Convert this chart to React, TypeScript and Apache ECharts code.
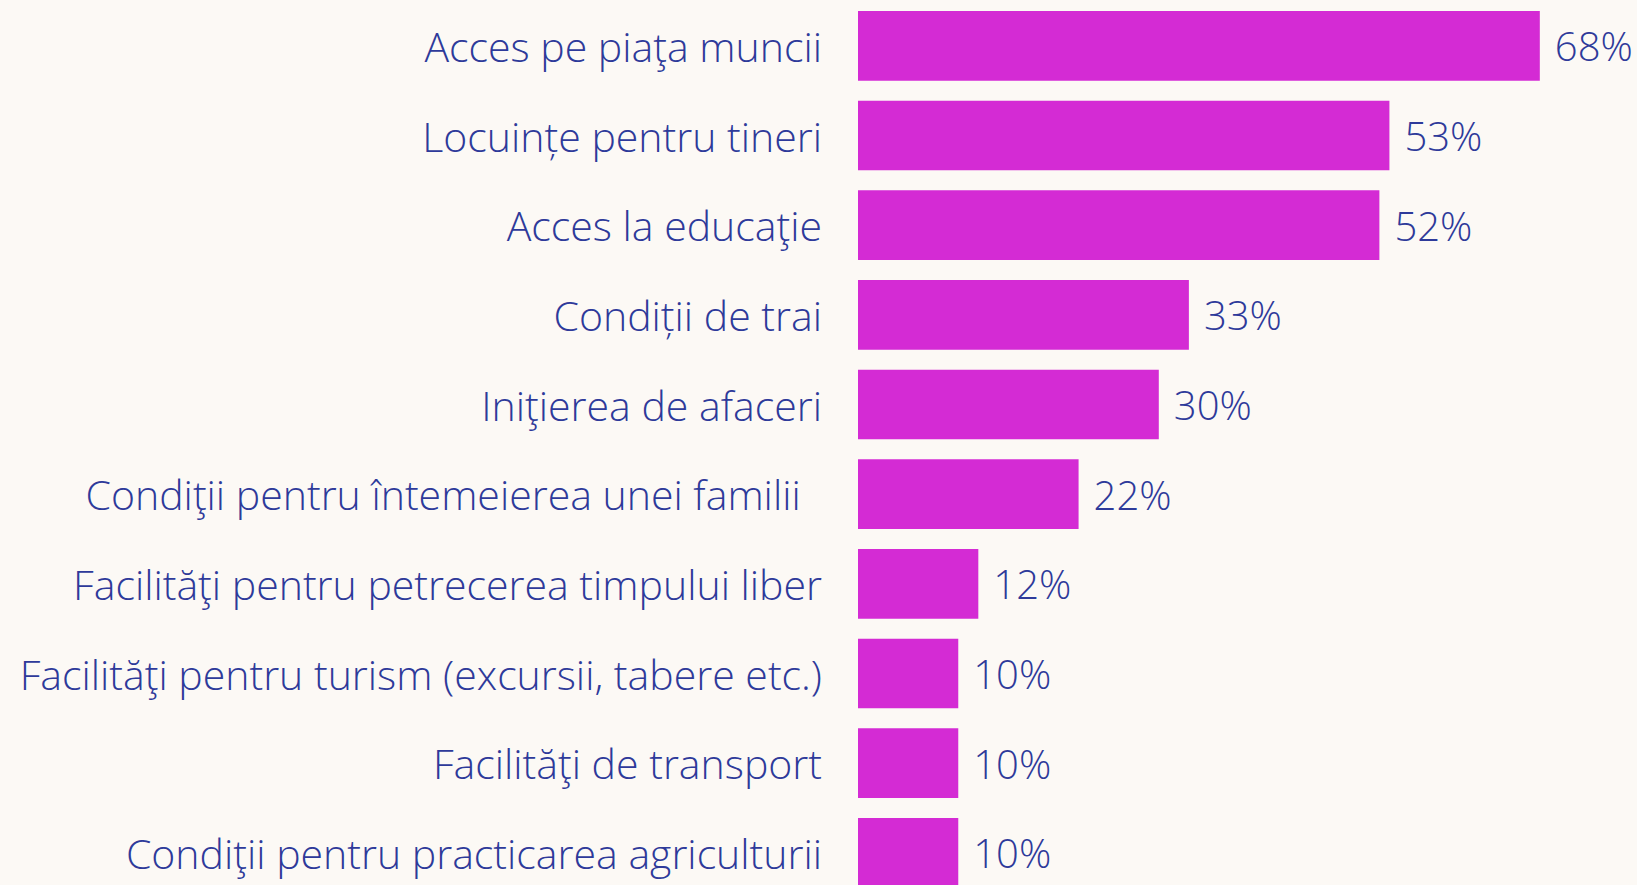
import React, { useEffect, useRef } from "react";
import * as echarts from "echarts";

const categories = [
  "Acces pe piaţa muncii",
  "Locuințe pentru tineri",
  "Acces la educaţie",
  "Condiții de trai",
  "Iniţierea de afaceri",
  "Condiţii pentru întemeierea unei familii\u00a0\u00a0",
  "Facilităţi pentru petrecerea timpului liber",
  "Facilităţi pentru turism (excursii, tabere etc.)",
  "Facilităţi de transport",
  "Condiţii pentru practicarea agriculturii",
];
const values = [68, 53, 52, 33, 30, 22, 12, 10, 10, 10];

const BG = "#fcf9f5";
const TEXT = "#2e3a9a";
const BAR = "#d42bd4";
const FONT = "'Open Sans', sans-serif";

export default function App() {
  const ref = useRef<HTMLDivElement>(null);
  useEffect(() => {
    if (!ref.current) return;
    const chart = echarts.init(ref.current, undefined, { renderer: "svg" });
    chart.setOption({
      animation: false,
      backgroundColor: BG,
      grid: { left: 858, top: 1, width: 752, height: 896.7, containLabel: false },
      xAxis: {
        type: "value",
        min: 0,
        max: 75,
        show: false,
        splitLine: { show: false },
      },
      yAxis: {
        type: "category",
        inverse: true,
        data: categories,
        axisLine: { show: false },
        axisTick: { show: false },
        axisLabel: {
          margin: 36,
          fontSize: 41,
          fontWeight: 300,
          fontFamily: FONT,
          color: TEXT,
          padding: [0, 0, 4, 0],
        },
      },
      series: [
        {
          type: "bar",
          data: values,
          barCategoryGap: "22.3%",
          itemStyle: { color: BAR },
          label: {
            show: true,
            position: "right",
            distance: 15,
            formatter: "{c}%",
            fontSize: 40,
            fontWeight: 300,
            fontFamily: FONT,
            color: TEXT,
            padding: [0, 0, 2, 0],
          },
        },
      ],
    });
    return () => chart.dispose();
  }, []);
  return (
    <div
      ref={ref}
      style={{ position: "fixed", left: 0, top: 0, width: 1637, height: 900, background: BG }}
    />
  );
}
